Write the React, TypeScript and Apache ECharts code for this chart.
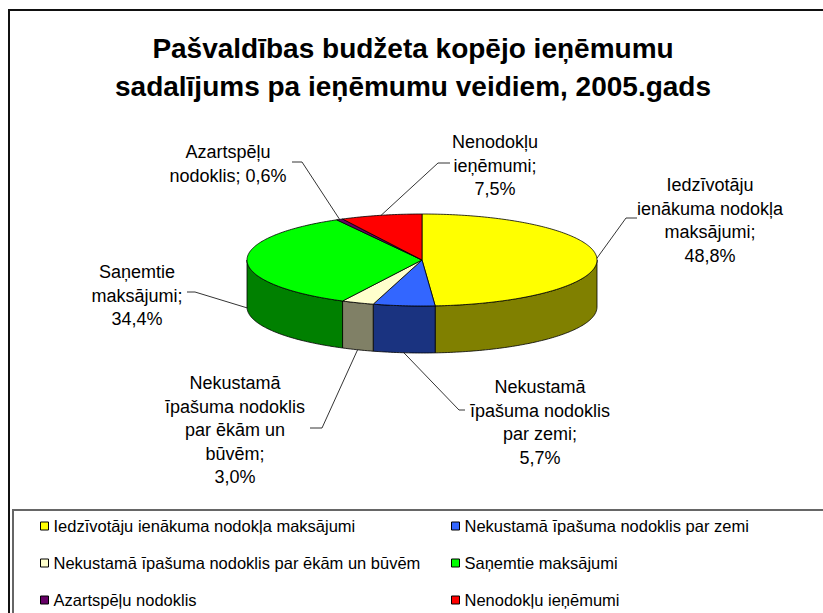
import React, { useEffect, useRef } from "react";
import * as echarts from "echarts";

const titleText = "Pašvaldības budžeta kopējo ieņēmumu\nsadalījums pa ieņēmumu veidiem, 2005.gads";
const categories = [
  "Iedzīvotāju ienākuma nodokļa maksājumi",
  "Nekustamā īpašuma nodoklis par zemi",
  "Nekustamā īpašuma nodoklis par ēkām un būvēm",
  "Saņemtie maksājumi",
  "Azartspēļu nodoklis",
  "Nenodokļu ieņēmumi",
];
const values = [48.8, 5.7, 3.0, 34.4, 0.6, 7.5];
const labelNames = [
  "Iedzīvotāju\nienākuma nodokļa\nmaksājumi;\n",
  "Nekustamā\nīpašuma nodoklis\npar zemi;\n",
  "Nekustamā\nīpašuma nodoklis\npar ēkām un\nbūvēm;\n",
  "Saņemtie\nmaksājumi;\n",
  "Azartspēļu\nnodoklis; ",
  "Nenodokļu\nieņēmumi;\n",
];

const topColors = ["#FFFF00", "#3366FF", "#FFFFCC", "#00FF00", "#660066", "#FF0000"];
const sideColors = ["#808000", "#1A3380", "#808066", "#008000", "#330033", "#800000"];

const FONT = '"Liberation Sans", Arial, Helvetica, sans-serif';
const PIE = { cx: 422, cy: 260, rx: 175, ry: 46, depth: 47 };
const LABEL_LAYOUT = [
  { tx: 710, ty: 185, ex: 626, ey: 218, hx: 637 },
  { tx: 540, ty: 387, ex: 459, ey: 410, hx: 465 },
  { tx: 235, ty: 383, ex: 322, ey: 428, hx: 310 },
  { tx: 137, ty: 272, ex: 195, ey: 292, hx: 187 },
  { tx: 228, ty: 152, ex: 302, ey: 162, hx: 292 },
  { tx: 495, ty: 142, ex: 438, ey: 163, hx: 450 },
];
const LINE_H = 23.5;

function fmtPct(v: number) {
  return v.toFixed(1).replace(".", ",") + "%";
}

export default function App() {
  const ref = useRef<HTMLDivElement>(null);
  useEffect(() => {
    if (!ref.current) return;
    const chart = echarts.init(ref.current, undefined, { renderer: "svg" });
    const total = values.reduce((a, b) => a + b, 0);
    const { cx, cy, rx, ry, depth } = PIE;
    const pt = (a: number, dy = 0) => [cx + rx * Math.sin(a), cy - ry * Math.cos(a) + dy];
    const arc = (a0: number, a1: number, dy = 0) => {
      const pts: number[][] = [];
      const n = Math.max(2, Math.ceil(((a1 - a0) * 180) / Math.PI));
      for (let k = 0; k <= n; k++) pts.push(pt(a0 + ((a1 - a0) * k) / n, dy));
      return pts;
    };

    const series = categories.map((name, i) => ({
      type: "custom",
      name,
      coordinateSystem: "none",
      itemStyle: { color: topColors[i], borderColor: "#000", borderWidth: 1 },
      data: [[values[i]]],
      renderItem: (_params: any, api: any) => {
        const v = api.value(0) as number;
        const before = values.slice(0, i).reduce((a, b) => a + b, 0);
        const start = (before / total) * Math.PI * 2;
        const end = start + (v / total) * Math.PI * 2;
        const children: any[] = [];
        children.push({
          type: "polygon",
          z2: 10,
          shape: { points: [[cx, cy], ...arc(start, end)] },
          style: { fill: topColors[i], stroke: "#000", lineWidth: 0.8, lineJoin: "round" },
        });
        const a0 = Math.max(start, Math.PI / 2);
        const a1 = Math.min(end, (Math.PI * 3) / 2);
        if (a1 > a0) {
          const upper = arc(a0, a1);
          const lower = arc(a0, a1, depth).reverse();
          children.push({
            type: "polygon",
            z2: 1,
            shape: { points: [...upper, ...lower] },
            style: { fill: sideColors[i], stroke: "#000", lineWidth: 0.8, lineJoin: "round" },
          });
        }
        const mid = (start + end) / 2;
        const anchor = pt(mid, Math.cos(mid) < 0 ? depth : 0);
        const L = LABEL_LAYOUT[i];
        children.push({
          type: "polyline",
          z2: 20,
          shape: { points: [anchor, [L.ex, L.ey], [L.hx, L.ey]] },
          style: { stroke: "#000", lineWidth: 0.8, fill: null },
        });
        children.push({
          type: "text",
          z2: 30,
          x: L.tx,
          y: L.ty - LINE_H / 2,
          style: {
            text: labelNames[i] + fmtPct(v),
            fill: "#000",
            font: `18px ${FONT}`,
            align: "center",
            textAlign: "center",
            verticalAlign: "top",
            textVerticalAlign: "top",
            lineHeight: LINE_H,
          },
        });
        return { type: "group", children };
      },
    }));

    const legendBase = {
      orient: "vertical",
      itemWidth: 8,
      itemHeight: 8,
      itemGap: 19,
      icon: "rect",
      selectedMode: false,
      top: 517,
      height: 300,
      width: 380,
      padding: 0,
      itemStyle: { borderColor: "#000", borderWidth: 1 },
      textStyle: { fontSize: 16.5, fontFamily: FONT, color: "#000", lineHeight: 18 },
    };

    chart.setOption({
      animation: false,
      backgroundColor: "#fff",
      legend: [
        { ...legendBase, left: 40, data: [categories[0], categories[2], categories[4]] },
        { ...legendBase, left: 451, data: [categories[1], categories[3], categories[5]] },
      ],
      graphic: [
        {
          type: "rect",
          shape: { x: 9, y: 10, width: 830, height: 620 },
          style: { fill: "none", stroke: "#111", lineWidth: 2 },
        },
        {
          type: "rect",
          shape: { x: 13, y: 510, width: 820, height: 120 },
          style: { fill: "none", stroke: "#666", lineWidth: 2 },
        },
        {
          type: "text",
          x: 413,
          y: 29,
          style: {
            text: titleText,
            fill: "#000",
            font: `bold 28px ${FONT}`,
            align: "center",
            textAlign: "center",
            verticalAlign: "top",
            textVerticalAlign: "top",
            lineHeight: 38,
          },
        },
      ],
      series,
    });
    return () => chart.dispose();
  }, []);
  return (
    <div
      ref={ref}
      style={{ position: "absolute", left: 0, top: 0, width: 823, height: 613 }}
    />
  );
}
